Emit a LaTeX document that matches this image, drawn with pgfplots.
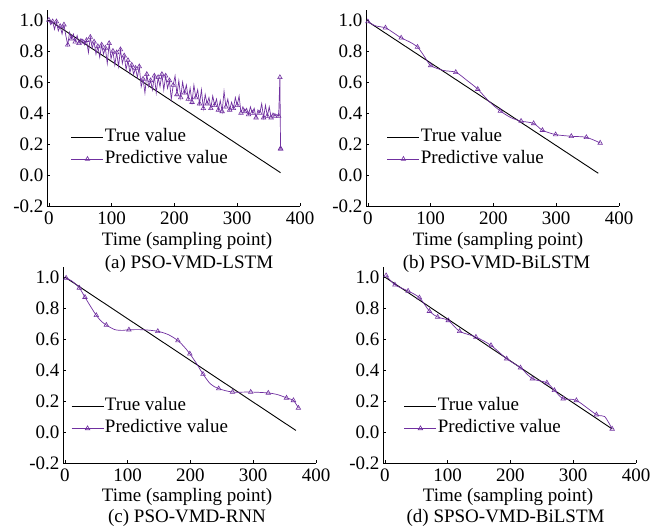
\documentclass[border=0pt]{standalone}
\usepackage{fontspec}
\setmainfont{Liberation Serif}
\usepackage{pgfplots}
\pgfplotsset{compat=1.18}
\definecolor{pviolet}{RGB}{112,48,160}
\pgfplotsset{
  panel/.style={
    scale only axis, width=253pt, height=196pt,
    xmin=-3, xmax=400, ymin=-0.2, ymax=1.065,
    axis lines=left, axis line style={-, line width=0.8pt, black},
    tick align=inside, major tick length=3pt, tick style={black, line width=0.6pt},
    xtick={0,100,200,300,400}, xticklabels={0,100,200,300,400},
    ytick={-0.2,0,0.2,0.4,0.6,0.8,1.0}, yticklabels={-0.2,0.0,0.2,0.4,0.6,0.8,1.0},
    /pgf/number format/assume math mode=true,
    ticklabel style={font=\fontsize{19}{22}\selectfont},
    xticklabel style={yshift=-4pt, inner sep=2pt},
    clip=false,
    legend cell align=left,
    legend style={draw=none, fill=none, inner sep=0pt, outer sep=0pt, row sep=3pt,
      anchor=north west, font=\fontsize{19}{22}\selectfont,
      nodes={inner sep=1pt, text height=13pt, text depth=4pt}},
    legend image code/.code={
      \draw[#1, mark repeat=2, mark phase=2] plot coordinates {(0pt,0pt) (16pt,0pt) (32pt,0pt)};
    },
  },
  truel/.style={black, line width=0.9pt, no markers},
  predl/.style={pviolet, line width=0.7pt, mark=triangle, mark size=2.6pt, mark options={solid, line width=0.6pt}},
  predline/.style={pviolet, line width=0.7pt, no markers, smooth},
  predmarks/.style={pviolet, only marks, mark=triangle, mark size=2.6pt, mark options={solid, line width=0.6pt}},
}
\begin{document}
\begin{tikzpicture}[x=1pt,y=1pt, font=\fontsize{19}{22}\selectfont]
% (a)
\begin{axis}[panel, at={(47pt,321pt)}, anchor=south west,
  legend style={at={(axis description cs:0.095,0.40)}}]
\addplot[truel] coordinates {(0,1.0) (369,0.015)};
\addplot[predl, mark repeat=2] coordinates {
(0,1.00) (3,0.97) (6,0.99) (9,0.94) (12,0.99) (15,0.93) (18,0.96) (21,0.91) (24,0.97) (27,0.90)
(30,0.84) (33,0.92) (36,0.88) (39,0.91) (42,0.86) (45,0.90) (48,0.85) (51,0.88) (54,0.86) (57,0.84)
(60,0.87) (63,0.79) (66,0.89) (69,0.82) (72,0.86) (75,0.78) (78,0.83) (81,0.76) (84,0.84) (87,0.78)
(90,0.82) (93,0.72) (96,0.85) (99,0.75) (102,0.80) (105,0.71) (108,0.79) (111,0.70) (114,0.81) (117,0.72)
(120,0.77) (123,0.68) (126,0.74) (129,0.66) (132,0.71) (135,0.65) (138,0.69) (141,0.63) (144,0.70) (147,0.57)
(150,0.62) (153,0.53) (156,0.65) (159,0.57) (162,0.61) (165,0.55) (168,0.64) (171,0.53) (174,0.63) (177,0.57)
(180,0.65) (183,0.55) (186,0.64) (189,0.56) (192,0.61) (195,0.49) (198,0.58) (201,0.64) (204,0.52) (207,0.61)
(210,0.50) (213,0.60) (216,0.53) (219,0.58) (222,0.49) (225,0.56) (228,0.47) (231,0.58) (234,0.50) (237,0.55)
(240,0.46) (243,0.55) (246,0.43) (249,0.52) (252,0.46) (255,0.50) (258,0.43) (261,0.51) (264,0.45) (267,0.49)
(270,0.42) (273,0.48) (276,0.41) (279,0.54) (282,0.44) (285,0.49) (288,0.42) (291,0.47) (294,0.43) (297,0.50)
(300,0.45) (303,0.51) (306,0.40) (309,0.44) (312,0.41) (315,0.43) (318,0.39) (321,0.44) (324,0.40) (327,0.43)
(330,0.37) (333,0.42) (336,0.40) (339,0.46) (342,0.37) (345,0.45) (348,0.38) (351,0.44) (354,0.37) (357,0.40)
(360,0.38) (363,0.39) (366,0.38) (368,0.63) (369,0.17)};
\addplot[predmarks, forget plot] coordinates {(368,0.63) (369,0.17)};
\legend{True value, Predictive value}
\end{axis}
% (b)
\begin{axis}[panel, at={(366pt,321pt)}, anchor=south west,
  legend style={at={(axis description cs:0.083,0.40)}}]
\addplot[truel] coordinates {(0,0.99) (367,0.011)};
\addlegendimage{predl}
\addplot[predline, forget plot] coordinates {
(0,0.99) (12,0.963) (28,0.95) (40,0.92) (53,0.885) (66,0.86) (79,0.826) (90,0.765) (100,0.707)
(120,0.675) (140,0.663) (158,0.61) (175,0.554) (193,0.475) (211,0.413) (228,0.37) (244,0.348)
(264,0.333) (278,0.289) (299,0.261) (324,0.25) (348,0.243) (370,0.207)};
\addplot[predmarks, forget plot] coordinates {
(0,0.99) (28,0.95) (53,0.885) (79,0.826) (100,0.707) (140,0.663) (175,0.554) (211,0.413)
(244,0.348) (264,0.333) (278,0.289) (299,0.261) (324,0.25) (348,0.243) (370,0.207)};
\legend{True value, Predictive value}
\end{axis}
% (c)
\begin{axis}[panel, at={(63pt,64pt)}, anchor=south west,
  legend style={at={(axis description cs:0.032,0.337)}}]
\addplot[truel] coordinates {(0,1.0) (368,0.01)};
\addlegendimage{predl}
\addplot[predline, forget plot] coordinates {
(2,0.994) (12,0.972) (23,0.93) (32,0.87) (41,0.81) (50,0.753) (58,0.715) (66,0.69) (80,0.66)
(92,0.656) (102,0.66) (125,0.66) (148,0.65) (165,0.628) (180,0.59) (190,0.55) (199,0.505)
(210,0.44) (220,0.374) (232,0.31) (245,0.28) (267,0.258) (296,0.258) (324,0.252) (340,0.24)
(353,0.22) (364,0.204) (372,0.155)};
\addplot[predmarks, forget plot] coordinates {
(2,0.994) (23,0.93) (32,0.87) (50,0.753) (66,0.69) (102,0.66) (148,0.65) (180,0.59) (199,0.505)
(220,0.374) (245,0.28) (267,0.258) (296,0.258) (324,0.252) (353,0.22) (364,0.204) (372,0.155)};
\legend{True value, Predictive value}
\end{axis}
% (d)
\begin{axis}[panel, at={(383pt,64pt)}, anchor=south west,
  legend style={at={(axis description cs:0.083,0.337)}}]
\addplot[truel] coordinates {(0,1.0) (362,0.02)};
\addlegendimage{predl}
\addplot[predline, forget plot] coordinates {
(2,1.01) (16,0.95) (37,0.91) (55,0.867) (71,0.78) (84,0.742) (101,0.72) (119,0.65) (145,0.613)
(169,0.559) (194,0.473) (216,0.415) (235,0.344) (258,0.318) (270,0.269) (284,0.215) (305,0.204)
(337,0.112) (350,0.1) (362,0.02)};
\addplot[predmarks, forget plot] coordinates {
(2,1.01) (16,0.95) (37,0.91) (55,0.867) (71,0.78) (84,0.742) (101,0.72) (119,0.65) (145,0.613)
(169,0.559) (194,0.473) (216,0.415) (235,0.344) (258,0.318) (270,0.269) (284,0.215) (305,0.204)
(337,0.112) (362,0.02)};
\legend{True value, Predictive value}
\end{axis}
% labels
\node[anchor=base] at (187,281) {Time (sampling point)};
\node[anchor=base] at (189,258.5) {(a) PSO-VMD-LSTM};
\node[anchor=base] at (498,281) {Time (sampling point)};
\node[anchor=base] at (496.5,258.5) {(b) PSO-VMD-BiLSTM};
\node[anchor=base] at (187,25.5) {Time (sampling point)};
\node[anchor=base] at (187,4.5) {(c) PSO-VMD-RNN};
\node[anchor=base] at (508,25.5) {Time (sampling point)};
\node[anchor=base] at (505.6,4.5) {(d) SPSO-VMD-BiLSTM};
\pgfresetboundingbox
\path[use as bounding box] (0,0) rectangle (650,527);
\end{tikzpicture}
\end{document}
